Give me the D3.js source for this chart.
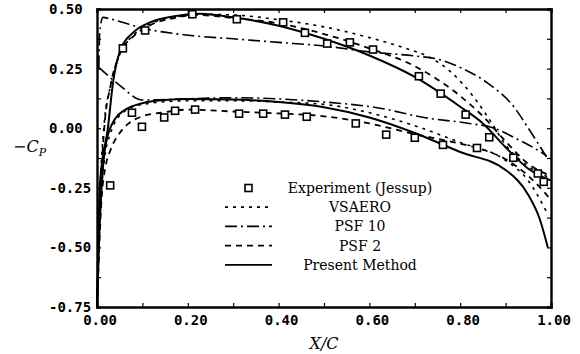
<!DOCTYPE html>
<html>
<head>
<meta charset="utf-8">
<script src="https://cdn.jsdelivr.net/npm/d3@7"></script>
<style>
  html, body { margin: 0; padding: 0; background: #fff; }
  svg { display: block; }
  .tick-label { font-family: "DejaVu Sans Mono", "Liberation Mono", monospace; font-weight: bold; font-size: 14px; fill: #000; }
  .legend-text { font-family: "DejaVu Serif", "Liberation Serif", serif; font-size: 14px; fill: #000; }
  .axis-title { font-family: "DejaVu Serif", "Liberation Serif", serif; font-style: italic; font-size: 16px; fill: #000; }
</style>
</head>
<body>
<svg id="chart" width="580" height="354"></svg>
<script>
// Axis ticks and their labels
const xTickValues = [0, 0.2, 0.4, 0.6, 0.8, 1.0];
const xTickLabels = ["0.00", "0.20", "0.40", "0.60", "0.80", "1.00"];
const yTickValues = [0.5, 0.25, 0, -0.25, -0.5, -0.75];
const yTickLabels = ["0.50", "0.25", "0.00", "-0.25", "-0.50", "-0.75"];

// Experiment (Jessup): [X/C, -Cp]
const experimentUpper = [
  [0.057, 0.335], [0.106, 0.41], [0.21, 0.478], [0.308, 0.457], [0.41, 0.444],
  [0.458, 0.40], [0.507, 0.355], [0.557, 0.36], [0.608, 0.33], [0.709, 0.218],
  [0.757, 0.145], [0.812, 0.057], [0.864, -0.038], [0.917, -0.124], [0.971, -0.19], [0.984, -0.225]
];
const experimentLower = [
  [0.029, -0.24], [0.077, 0.065], [0.099, 0.006], [0.148, 0.045], [0.172, 0.073],
  [0.216, 0.078], [0.313, 0.061], [0.366, 0.061], [0.414, 0.057], [0.462, 0.048],
  [0.57, 0.02], [0.637, -0.027], [0.70, -0.04], [0.762, -0.07], [0.837, -0.083]
];

// VSAERO
const vsaeroUpper = [
  [0, -0.75], [0.006, -0.3], [0.015, 0.0], [0.03, 0.18], [0.05, 0.31], [0.08, 0.39], [0.12, 0.44],
  [0.17, 0.465], [0.22, 0.478], [0.3, 0.475], [0.4, 0.455], [0.5, 0.425], [0.6, 0.38],
  [0.68, 0.335], [0.73, 0.3], [0.78, 0.235], [0.83, 0.13], [0.87, 0.02], [0.9, -0.07],
  [0.95, -0.16], [1.0, -0.21]
];
const vsaeroLower = [
  [0, -0.75], [0.006, -0.4], [0.015, -0.15], [0.03, -0.02], [0.06, 0.07], [0.1, 0.1],
  [0.2, 0.115], [0.3, 0.115], [0.4, 0.11], [0.5, 0.1], [0.6, 0.065], [0.7, 0.01],
  [0.8, -0.06], [0.9, -0.135], [0.95, -0.22], [0.99, -0.35]
];

// PSF 10
const psf10Upper = [
  [0.004, 0.255], [0.006, 0.4], [0.013, 0.465], [0.03, 0.458], [0.1, 0.42], [0.2, 0.39],
  [0.3, 0.375], [0.4, 0.36], [0.5, 0.345], [0.6, 0.32], [0.7, 0.303], [0.75, 0.29],
  [0.8, 0.255], [0.86, 0.19], [0.92, 0.085], [0.95, 0.0], [0.99, -0.12]
];
const psf10Lower = [
  [0.004, 0.255], [0.05, 0.18], [0.1, 0.118], [0.15, 0.12], [0.3, 0.128], [0.5, 0.11],
  [0.62, 0.085], [0.72, 0.045], [0.82, 0.02], [0.87, 0.003], [0.93, -0.05], [0.96, -0.08], [0.99, -0.115]
];

// PSF 2
const psf2Upper = [
  [0, -0.75], [0.007, -0.3], [0.016, 0.0], [0.03, 0.18], [0.05, 0.31], [0.08, 0.385], [0.12, 0.435],
  [0.17, 0.462], [0.22, 0.475], [0.3, 0.462], [0.4, 0.44], [0.5, 0.395], [0.6, 0.335],
  [0.7, 0.26], [0.8, 0.135], [0.85, 0.05], [0.9, -0.055], [0.95, -0.15], [1.0, -0.2]
];
const psf2Lower = [
  [0, -0.75], [0.01, -0.3], [0.02, -0.15], [0.03, -0.09], [0.05, -0.02], [0.07, 0.02],
  [0.1, 0.05], [0.15, 0.067], [0.2, 0.078], [0.3, 0.07], [0.4, 0.062], [0.5, 0.05],
  [0.6, 0.02], [0.7, -0.025], [0.8, -0.065], [0.85, -0.09], [0.9, -0.13], [0.95, -0.2], [1.0, -0.3]
];

// Present Method
const presentUpper = [
  [0, -0.75], [0.007, -0.22], [0.024, 0.0], [0.035, 0.187], [0.051, 0.326], [0.079, 0.40],
  [0.117, 0.444], [0.167, 0.469], [0.227, 0.48], [0.3, 0.465], [0.4, 0.43], [0.5, 0.375],
  [0.6, 0.305], [0.7, 0.215], [0.8, 0.09], [0.85, 0.02], [0.9, -0.08], [0.95, -0.17], [1.0, -0.22]
];
const presentLower = [
  [0, -0.75], [0.005, -0.45], [0.01, -0.25], [0.02, -0.06], [0.04, 0.04], [0.06, 0.075],
  [0.1, 0.105], [0.15, 0.118], [0.2, 0.122], [0.3, 0.12], [0.4, 0.11], [0.5, 0.088],
  [0.6, 0.045], [0.7, -0.02], [0.8, -0.1], [0.9, -0.175], [0.95, -0.28], [0.975, -0.38], [0.993, -0.5]
];

const methods = [
  { name: "VSAERO", upper: vsaeroUpper, lower: vsaeroLower, dash: "3,5", width: 1.6 },
  { name: "PSF 10", upper: psf10Upper, lower: psf10Lower, dash: "12,4,2,4", width: 1.6 },
  { name: "PSF 2", upper: psf2Upper, lower: psf2Lower, dash: "6,5", width: 1.8 },
  { name: "Present Method", upper: presentUpper, lower: presentLower, dash: null, width: 2.0 }
];

const svg = d3.select("#chart");
const margin = { left: 97, right: 29, top: 9, bottom: 47 };
const W = 580, H = 354;

const x = d3.scaleLinear().domain([0, 1]).range([margin.left, W - margin.right]);
const y = d3.scaleLinear().domain([-0.75, 0.5]).range([H - margin.bottom, margin.top]);

const plot = svg.append("g");

// pressure curves, one path per surface
const line = d3.line()
  .x(d => x(d[0]))
  .y(d => y(d[1]))
  .curve(d3.curveMonotoneX);

methods.forEach(m => {
  [m.upper, m.lower].forEach(series => {
    plot.append("path")
      .datum(series)
      .attr("d", line)
      .attr("fill", "none")
      .attr("stroke", "#000")
      .attr("stroke-width", m.width)
      .attr("stroke-dasharray", m.dash);
  });
});

// experiment squares
const sq = 7;
plot.selectAll("rect.exp")
  .data(experimentUpper.concat(experimentLower))
  .join("rect")
  .attr("class", "exp")
  .attr("x", d => x(d[0]) - sq / 2)
  .attr("y", d => y(d[1]) - sq / 2)
  .attr("width", sq)
  .attr("height", sq)
  .attr("fill", "#fff")
  .attr("stroke", "#000")
  .attr("stroke-width", 1.6);

// frame with inward ticks
const frame = svg.append("g");
const xMinor = d3.range(0, 1.0001, 0.1);
const yMinor = d3.range(-0.75, 0.5001, 0.125);

frame.append("g")
  .attr("transform", `translate(0,${y(-0.75)})`)
  .call(d3.axisBottom(x).tickValues(xMinor).tickSize(-4).tickFormat(""));
frame.append("g")
  .attr("transform", `translate(0,${y(0.5)})`)
  .call(d3.axisTop(x).tickValues(xMinor).tickSize(-4).tickFormat(""));
frame.append("g")
  .attr("transform", `translate(${x(0)},0)`)
  .call(d3.axisLeft(y).tickValues(yMinor).tickSize(-4).tickFormat(""));
frame.append("g")
  .attr("transform", `translate(${x(1)},0)`)
  .call(d3.axisRight(y).tickValues(yMinor).tickSize(-4).tickFormat(""));
frame.selectAll(".domain").attr("stroke", "#000").attr("stroke-width", 2.4);
frame.selectAll(".tick line").attr("stroke", "#000").attr("stroke-width", 1.2);

// tick labels
svg.selectAll("text.xt")
  .data(xTickValues)
  .join("text")
  .attr("class", "tick-label")
  .attr("x", d => x(d) + 3)
  .attr("y", 325)
  .attr("text-anchor", "middle")
  .text((d, i) => xTickLabels[i]);

svg.selectAll("text.yt")
  .data(yTickValues)
  .join("text")
  .attr("class", "tick-label")
  .attr("x", 49)
  .attr("y", d => y(d) + 5)
  .attr("text-anchor", "start")
  .text((d, i) => yTickLabels[i]);

// axis titles
svg.append("text")
  .attr("class", "axis-title")
  .attr("x", 324)
  .attr("y", 349)
  .attr("text-anchor", "middle")
  .text("X/C");

const yt = svg.append("text")
  .attr("class", "axis-title")
  .attr("x", 13)
  .attr("y", 152);
yt.append("tspan").text("\u2212C");
yt.append("tspan").attr("dy", 4).attr("font-size", 11).text("P");

// legend
const legendItems = [
  { label: "Experiment (Jessup)", marker: true },
  { label: "VSAERO", dash: "3,5" },
  { label: "PSF 10", dash: "12,4,2,4" },
  { label: "PSF 2", dash: "6,5" },
  { label: "Present Method", dash: null }
];
const legend = svg.append("g");
legendItems.forEach((it, i) => {
  const ly = 188 + i * 19.2;
  if (it.marker) {
    legend.append("rect")
      .attr("x", 245).attr("y", ly - 3.5)
      .attr("width", 7).attr("height", 7)
      .attr("fill", "#fff").attr("stroke", "#000").attr("stroke-width", 1.6);
  } else {
    legend.append("line")
      .attr("x1", 225).attr("x2", 272)
      .attr("y1", ly).attr("y2", ly)
      .attr("stroke", "#000").attr("stroke-width", 1.8)
      .attr("stroke-dasharray", it.dash);
  }
  legend.append("text")
    .attr("class", "legend-text")
    .attr("x", 360)
    .attr("y", ly + 5)
    .attr("text-anchor", "middle")
    .text(it.label);
});
</script>
</body>
</html>
